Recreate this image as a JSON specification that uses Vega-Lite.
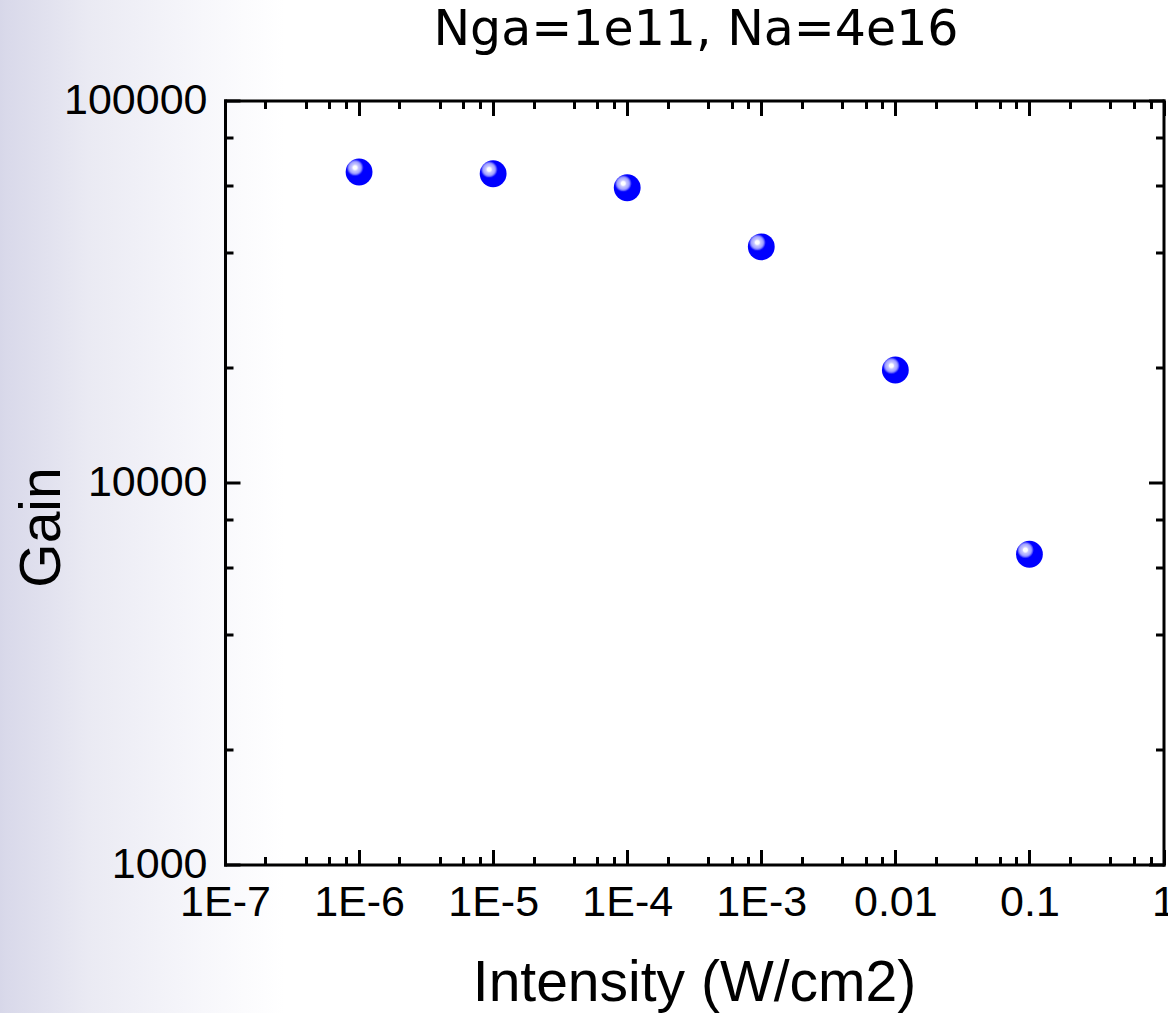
{
  "$schema": "https://vega.github.io/schema/vega-lite/v6.json",
  "width": 938.5,
  "height": 764,
  "autosize": "none",
  "padding": {"left": 225, "top": 100.5, "right": 4.5, "bottom": 148.5},
  "background": "white",
  "config": {
    "view": {"stroke": null},
    "axis": {
      "grid": false,
      "domainColor": "black",
      "domainWidth": 3,
      "domainCap": "square",
      "tickColor": "black",
      "tickWidth": 3,
      "labelFont": "Liberation Sans",
      "labelFontSize": 43,
      "labelColor": "black",
      "labelOverlap": false,
      "labelFlush": false,
      "labelBound": false,
      "titleFont": "Liberation Sans",
      "titleFontSize": 57,
      "titleFontWeight": "normal",
      "titleColor": "black"
    }
  },
  "layer": [
    {
      "description": "soft lavender band fading to white behind the left margin",
      "data": {"values": [{"band": "left"}]},
      "mark": {
        "type": "rect",
        "color": {
          "gradient": "linear",
          "x1": 0, "y1": 0, "x2": 1, "y2": 0,
          "stops": [
            {"offset": 0, "color": "#c8c9e0"},
            {"offset": 0.15, "color": "#d9d9ea"},
            {"offset": 0.4, "color": "#eaeaf3"},
            {"offset": 0.75, "color": "#f7f7fb"},
            {"offset": 1, "color": "#ffffff"}
          ]
        }
      },
      "encoding": {
        "x": {"datum": 1e-9, "type": "quantitative", "scale": {"type": "log", "domain": [1e-7, 1], "nice": false}, "axis": null},
        "x2": {"datum": 2.8e-7},
        "y": {"datum": 400, "type": "quantitative", "scale": {"type": "log", "domain": [1000, 100000], "nice": false}, "axis": null},
        "y2": {"datum": 200000}
      }
    },
    {
      "data": {"name": "gain"},
      "mark": {
        "type": "circle",
        "size": 720,
        "opacity": 1,
        "color": {
          "gradient": "radial",
          "x1": 0.35, "y1": 0.34, "r1": 0,
          "x2": 0.35, "y2": 0.34, "r2": 0.31,
          "stops": [
            {"offset": 0, "color": "#ffffff"},
            {"offset": 0.24, "color": "#ffffff"},
            {"offset": 0.38, "color": "#c8c8ff"},
            {"offset": 0.72, "color": "#a0a0ff"},
            {"offset": 0.9, "color": "#4a4aff"},
            {"offset": 1, "color": "#0000ff"}
          ]
        }
      },
      "encoding": {
        "x": {
          "field": "intensity",
          "type": "quantitative",
          "scale": {"type": "log", "domain": [1e-7, 1], "nice": false},
          "axis": {
            "orient": "bottom",
            "zindex": 1,
            "values": [1e-7, 2e-7, 4e-7, 6e-7, 8e-7, 1e-6, 2e-6, 4e-6, 6e-6, 8e-6, 1e-5, 2e-5, 4e-5, 6e-5, 8e-5, 1e-4, 2e-4, 4e-4, 6e-4, 8e-4, 1e-3, 2e-3, 4e-3, 6e-3, 8e-3, 0.01, 0.02, 0.04, 0.06, 0.08, 0.1, 0.2, 0.4, 0.6, 0.8, 1],
            "labelExpr": "abs(log(datum.value)/LN10 - round(log(datum.value)/LN10)) < 0.000001 ? (datum.value >= 0.01 ? '' + datum.value : '1E' + round(log(datum.value)/LN10)) : ''",
            "tickSize": {"condition": {"test": "abs(log(datum.value)/LN10 - round(log(datum.value)/LN10)) < 0.000001", "value": -15}, "value": -8},
            "labelPadding": 66,
            "labelBaseline": "alphabetic",
            "labelAlign": "center",
            "title": "Intensity (W/cm2)",
            "titleX": 469,
            "titleY": 135.5,
            "titleBaseline": "alphabetic",
            "titleAlign": "center"
          }
        },
        "y": {
          "field": "gain",
          "type": "quantitative",
          "scale": {"type": "log", "domain": [1000, 100000], "nice": false},
          "axis": {
            "orient": "left",
            "zindex": 1,
            "values": [1000, 2000, 4000, 6000, 8000, 10000, 20000, 40000, 60000, 80000, 100000],
            "labelExpr": "datum.value == 1000 || datum.value == 10000 || datum.value == 100000 ? '' + datum.value : ''",
            "tickSize": {"condition": {"test": "datum.value == 1000 || datum.value == 10000 || datum.value == 100000", "value": -15}, "value": -8},
            "labelPadding": 33,
            "labelAlign": "right",
            "labelBaseline": "middle",
            "title": "Gain",
            "titleAngle": 270,
            "titleX": -166,
            "titleY": 426.5,
            "titleBaseline": "alphabetic",
            "titleAlign": "center"
          }
        }
      }
    },
    {
      "description": "mirrored frame axes on the top and right; the top one carries the chart heading",
      "data": {"name": "gain"},
      "mark": {"type": "circle", "size": 720, "opacity": 0},
      "encoding": {
        "x": {
          "field": "intensity",
          "type": "quantitative",
          "scale": {"type": "log", "domain": [1e-7, 1], "nice": false},
          "axis": {
            "orient": "top",
            "zindex": 1,
            "values": [1e-7, 2e-7, 4e-7, 6e-7, 8e-7, 1e-6, 2e-6, 4e-6, 6e-6, 8e-6, 1e-5, 2e-5, 4e-5, 6e-5, 8e-5, 1e-4, 2e-4, 4e-4, 6e-4, 8e-4, 1e-3, 2e-3, 4e-3, 6e-3, 8e-3, 0.01, 0.02, 0.04, 0.06, 0.08, 0.1, 0.2, 0.4, 0.6, 0.8, 1],
            "labels": false,
            "tickSize": {"condition": {"test": "abs(log(datum.value)/LN10 - round(log(datum.value)/LN10)) < 0.000001", "value": -15}, "value": -8},
            "title": "Nga=1e11, Na=4e16",
            "titleFont": "DejaVu Sans",
            "titleFontSize": 49,
            "titleX": 470.5,
            "titleY": -56,
            "titleBaseline": "alphabetic",
            "titleAlign": "center"
          }
        },
        "y": {
          "field": "gain",
          "type": "quantitative",
          "scale": {"type": "log", "domain": [1000, 100000], "nice": false},
          "axis": {
            "orient": "right",
            "zindex": 1,
            "values": [1000, 2000, 4000, 6000, 8000, 10000, 20000, 40000, 60000, 80000, 100000],
            "labels": false,
            "title": null,
            "tickSize": {"condition": {"test": "datum.value == 1000 || datum.value == 10000 || datum.value == 100000", "value": -15}, "value": -8}
          }
        }
      }
    }
  ],
  "resolve": {"axis": {"x": "independent", "y": "independent"}},
  "datasets": {
    "gain": [
      {"intensity": 1e-6, "gain": 65000},
      {"intensity": 1e-5, "gain": 64300},
      {"intensity": 1e-4, "gain": 59100},
      {"intensity": 1e-3, "gain": 41400},
      {"intensity": 0.01, "gain": 19700},
      {"intensity": 0.1, "gain": 6490}
    ]
  }
}
